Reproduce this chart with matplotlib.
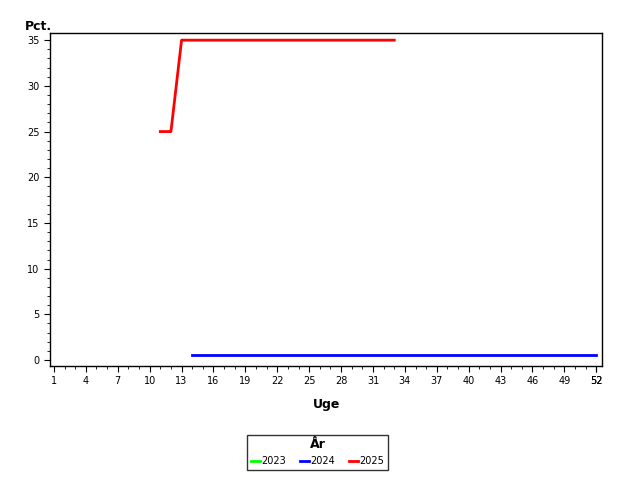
import numpy as np
import matplotlib
matplotlib.use('Agg')
import matplotlib.pyplot as plt
from matplotlib.lines import Line2D
import matplotlib.ticker as mticker

matplotlib.rcParams.update({'font.size': 7, 'font.family': 'DejaVu Sans'})

# data
weeks_2025 = [11, 12, 13, 14, 15, 16, 17, 18, 19, 20, 21, 22, 23, 24, 25, 26, 27, 28, 29, 30, 31, 32, 33]
pct_2025 = [25, 25] + [35] * 21
weeks_2024 = list(range(14, 53))
pct_2024 = [0.6] * len(weeks_2024)
weeks_2023 = []
pct_2023 = []
xticks = list(range(1, 53, 3)) + [52]

fig = plt.figure(figsize=(6.4, 4.8), dpi=100)
ax = fig.add_axes([0.078, 0.2375, 0.863, 0.6935])

ax.plot(weeks_2023, pct_2023, color='#00ff00', lw=2)
ax.plot(weeks_2024, pct_2024, color='#0000ff', lw=2)
ax.plot(weeks_2025, pct_2025, color='#ff0000', lw=2)

ax.set_xlim(0.62, 52.56)
ax.set_ylim(-0.65, 35.77)
ax.set_xticks(xticks)
ax.xaxis.set_minor_locator(mticker.MultipleLocator(1))
ax.set_yticks(range(0, 36, 5))
ax.yaxis.set_minor_locator(mticker.MultipleLocator(1))
ax.tick_params(which='major', length=4, direction='out')
ax.tick_params(which='minor', length=2, direction='out')
for s in ax.spines.values():
    s.set_linewidth(1)

ax.set_xlabel('Uge', fontsize=9, fontweight='bold', labelpad=8)
ax.text(-0.045, 1.0, 'Pct.', transform=ax.transAxes, fontsize=9, fontweight='bold',
        ha='left', va='bottom')

handles = [Line2D([], [], color=c, lw=2) for c in ['#00ff00', '#0000ff', '#ff0000']]
leg = fig.legend(handles, ['2023', '2024', '2025'], title='År', ncol=3,
                 loc='center', bbox_to_anchor=(0.496, 0.0575), frameon=True, fancybox=False,
                 handlelength=0.9, handletextpad=0.1, columnspacing=1.5, fontsize=7,
                 title_fontproperties={'weight': 'bold', 'size': 9}, borderpad=0.4)
leg.get_frame().set_edgecolor('black')
leg.get_frame().set_linewidth(1)

fig.savefig('out.png')
